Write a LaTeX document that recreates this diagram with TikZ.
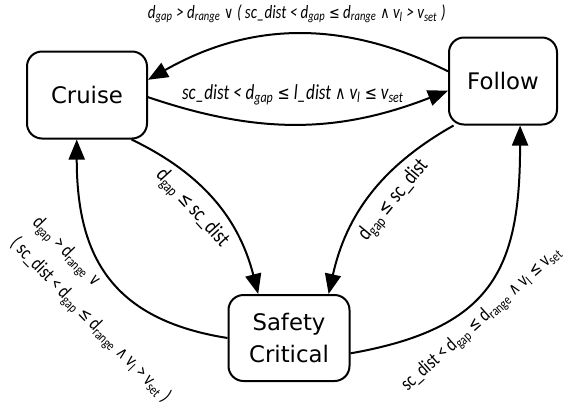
\documentclass[tikz,border=0pt]{standalone}
\usepackage{fontspec}
\usetikzlibrary{arrows.meta}
\setmainfont{DejaVu Sans}
\newfontfamily\condfont[FakeStretch=0.8]{Carlito}
\newfontfamily\symfont[FakeStretch=0.8,Scale=0.85]{DejaVu Sans}
\newlength{\du}
\setlength{\du}{0.5pt}
\newcommand{\lsub}[1]{\textsubscript{#1}}
\newcommand{\orop}{{\symfont\char"2228}}
\newcommand{\andop}{{\symfont\char"2227}}
\newcommand{\leop}{{\symfont\char"2264}}
\tikzset{
  state/.style={draw, line width=1pt, rounded corners=7.5pt, align=center,
    minimum height=87\du, font=\fontsize{11.4}{16}\selectfont},
  trans/.style={-{Triangle[length=10pt,width=8pt]}, line width=1pt},
  cond/.style={font=\condfont\fontsize{10}{15.5}\selectfont, inner sep=1pt},
  condit/.style={cond, font=\condfont\itshape\fontsize{10.7}{15}\selectfont}
}

\begin{document}
\begin{tikzpicture}[x=1\du, y=1\du]
\useasboundingbox (0,0) rectangle (563,-414);
% states
\node[state, minimum width=120\du] (cruise) at (87,-95) {Cruise};
\node[state, minimum width=108\du] (follow) at (503,-81) {Follow};
\node[state, minimum width=121\du, minimum height=86\du] (safety) at (289,-338) {Safety\\Critical};
% transitions between cruise and follow
\draw[trans] (follow.170) to[bend right=28]
  node[condit, above=4pt, font=\condfont\itshape\fontsize{9.4}{14}\selectfont] {d\lsub{gap} > d\lsub{range} \orop{} ( sc\_dist < d\lsub{gap} \leop{} d\lsub{range} \andop{} v\lsub{l} > v\lsub{set} )}
  (cruise.14);
\draw[trans] (cruise.-2) to[bend right=20]
  node[condit, above=8pt, pos=0.48] {sc\_dist < d\lsub{gap} \leop{} l\_dist \andop{} v\lsub{l} \leop{} v\lsub{set}}
  (follow.190);
% transitions into safety critical
\draw[trans] (cruise.-45) to[bend left=25]
  node[cond, sloped, below=4pt, pos=0.45, font=\condfont\fontsize{11}{15}\selectfont] {d\lsub{gap} \leop{} sc\_dist}
  (safety.125);
\draw[trans] (follow.222) to[bend right=24]
  node[cond, sloped, below=4pt, pos=0.45, font=\condfont\fontsize{11}{15}\selectfont] {d\lsub{gap} \leop{} sc\_dist}
  (safety.48);
% transitions out of safety critical
\draw[trans] (safety.west) to[out=171, in=-90, looseness=1.2]
  node[cond, sloped, below=0pt, pos=0.42, align=left] {d\lsub{gap} > d\lsub{range} \orop\\( sc\_dist < d\lsub{gap} \leop{} d\lsub{range} \andop{} v\lsub{l} > v\lsub{set} )}
  (cruise.-103);
\draw[trans] (safety.-14) to[out=10, in=-90, looseness=1.3]
  node[cond, sloped, below=3pt, pos=0.39] {sc\_dist < d\lsub{gap} \leop{} d\lsub{range} \andop{} v\lsub{l} \leop{} v\lsub{set}}
  (follow.-69);
\end{tikzpicture}
\end{document}
